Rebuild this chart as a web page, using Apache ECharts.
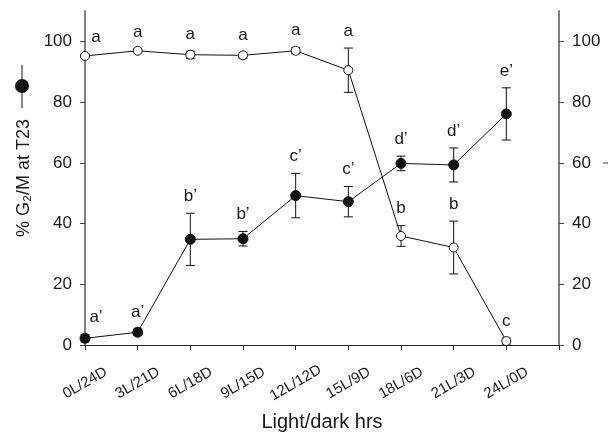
<!DOCTYPE html>
<html>
<head>
<meta charset="utf-8">
<script src="https://cdn.jsdelivr.net/npm/echarts@6/dist/echarts.min.js"></script>
<style>html,body{margin:0;padding:0;background:#fff;}#c{width:608px;height:437px;}</style>
</head>
<body>
<div id="c"></div>
<script>
const categories = ['0L/24D','3L/21D','6L/18D','9L/15D','12L/12D','15L/9D','18L/6D','21L/3D','24L/0D'];
const filledMean = [2.2, 4.2, 34.8, 35.0, 49.2, 47.2, 59.8, 59.3, 76.1];
const filledErr  = [1.2, 1.1, 8.6, 2.4, 7.3, 5.0, 2.4, 5.6, 8.6];
const openMean   = [95.2, 96.9, 95.6, 95.4, 96.9, 90.5, 35.9, 32.1, 1.3];
const openErr    = [0.5, 0.4, 1.2, 1.0, 1.0, 7.3, 3.4, 8.7, 1.0];
const filledLetters = ['a\u2019','a\u2019','b\u2019','b\u2019','c\u2019','c\u2019','d\u2019','d\u2019','e\u2019'];
const openLetters   = ['a','a','a','a','a','a','b','b','c'];
const yTicks = [0, 20, 40, 60, 80, 100];
const xTicks = [0,1,2,3,4,5,6,7,8,9];

const FONT = 'Liberation Sans, Arial, sans-serif';

function errRenderer(letters) {
  return function (params, api) {
    const i = api.value(0), m = api.value(1), e = api.value(2);
    const x = api.coord([i, m])[0];
    const yT = api.coord([i, m + e])[1];
    const yB = api.coord([i, m - e])[1];
    const cw = 4.5;
    const st = { stroke: '#111', lineWidth: 1 };
    const dx = params.dataIndex === 0 ? 11 : 0;
    return {
      type: 'group',
      children: [
        { type: 'line', shape: { x1: x, y1: yT, x2: x, y2: yB }, style: st },
        { type: 'line', shape: { x1: x - cw, y1: yT, x2: x + cw, y2: yT }, style: st },
        { type: 'line', shape: { x1: x - cw, y1: yB, x2: x + cw, y2: yB }, style: st },
        { type: 'text', x: x + dx, y: yT - 17,
          style: { text: letters[params.dataIndex], fontSize: 17, fontFamily: FONT, fill: '#1a1a1a',
                   align: 'center', verticalAlign: 'middle' } }
      ]
    };
  };
}

const yAxisCommon = {
  type: 'value', min: 0, max: 110, interval: 20,
  axisLine: { show: true, lineStyle: { color: '#808080', width: 2 } },
  axisTick: { show: true, customValues: yTicks, length: 5, lineStyle: { color: '#444', width: 1 } },
  axisLabel: { customValues: yTicks, fontSize: 17, fontFamily: FONT, color: '#1a1a1a', margin: 13 },
  splitLine: { show: false }
};

const chart = echarts.init(document.getElementById('c'), null, { renderer: 'canvas' });
chart.setOption({
  animation: false,
  backgroundColor: '#fff',
  grid: { left: 85, right: 49, top: 11, bottom: 87, containLabel: false },
  xAxis: {
    type: 'value', min: 0, max: 9, interval: 1,
    name: 'Light/dark hrs', nameLocation: 'middle', nameGap: 67,
    nameTextStyle: { fontSize: 20, fontFamily: FONT, color: '#1a1a1a' },
    axisLine: { show: true, onZero: false, lineStyle: { color: '#222', width: 1 } },
    axisTick: { show: true, customValues: xTicks, length: 5, lineStyle: { color: '#222' } },
    axisLabel: {
      customValues: [0,1,2,3,4,5,6,7,8],
      formatter: function (v) { return categories[Math.round(v)] || ''; },
      rotate: 30, align: 'center', verticalAlign: 'middle', margin: 38,
      fontSize: 15, fontFamily: FONT, color: '#1a1a1a'
    },
    splitLine: { show: false }
  },
  yAxis: [
    Object.assign({}, yAxisCommon, { position: 'left' }),
    Object.assign({}, yAxisCommon, { position: 'right' })
  ],
  graphic: [
    { type: 'text', x: 24, y: 178, rotation: Math.PI / 2,
      style: { text: '% G\u2082/M at T23', fontSize: 18, fontFamily: FONT, fill: '#1a1a1a',
               align: 'center', verticalAlign: 'middle' } },
    { type: 'line', shape: { x1: 22, y1: 65, x2: 22, y2: 108 }, style: { stroke: '#111', lineWidth: 1 } },
    { type: 'circle', shape: { cx: 22, cy: 86, r: 7 }, style: { fill: '#111' } },
    { type: 'line', shape: { x1: 603, y1: 163, x2: 608, y2: 163 }, style: { stroke: '#333', lineWidth: 1 } }
  ],
  series: [
    { type: 'custom', coordinateSystem: 'cartesian2d', z: 1, clip: false,
      renderItem: errRenderer(openLetters),
      data: openMean.map((m, i) => [i, m, openErr[i]]), encode: { x: 0, y: 1 } },
    { type: 'custom', coordinateSystem: 'cartesian2d', z: 1, clip: false,
      renderItem: errRenderer(filledLetters),
      data: filledMean.map((m, i) => [i, m, filledErr[i]]), encode: { x: 0, y: 1 } },
    { type: 'line', z: 3, data: openMean.map((m, i) => [i, m]),
      symbol: 'circle', symbolSize: 9,
      lineStyle: { color: '#111', width: 1 },
      itemStyle: { color: '#fff', borderColor: '#111', borderWidth: 1 } },
    { type: 'line', z: 3, data: filledMean.map((m, i) => [i, m]),
      symbol: 'circle', symbolSize: 10,
      lineStyle: { color: '#111', width: 1 },
      itemStyle: { color: '#111', borderColor: '#111', borderWidth: 1 } }
  ]
});
</script>
</body>
</html>
